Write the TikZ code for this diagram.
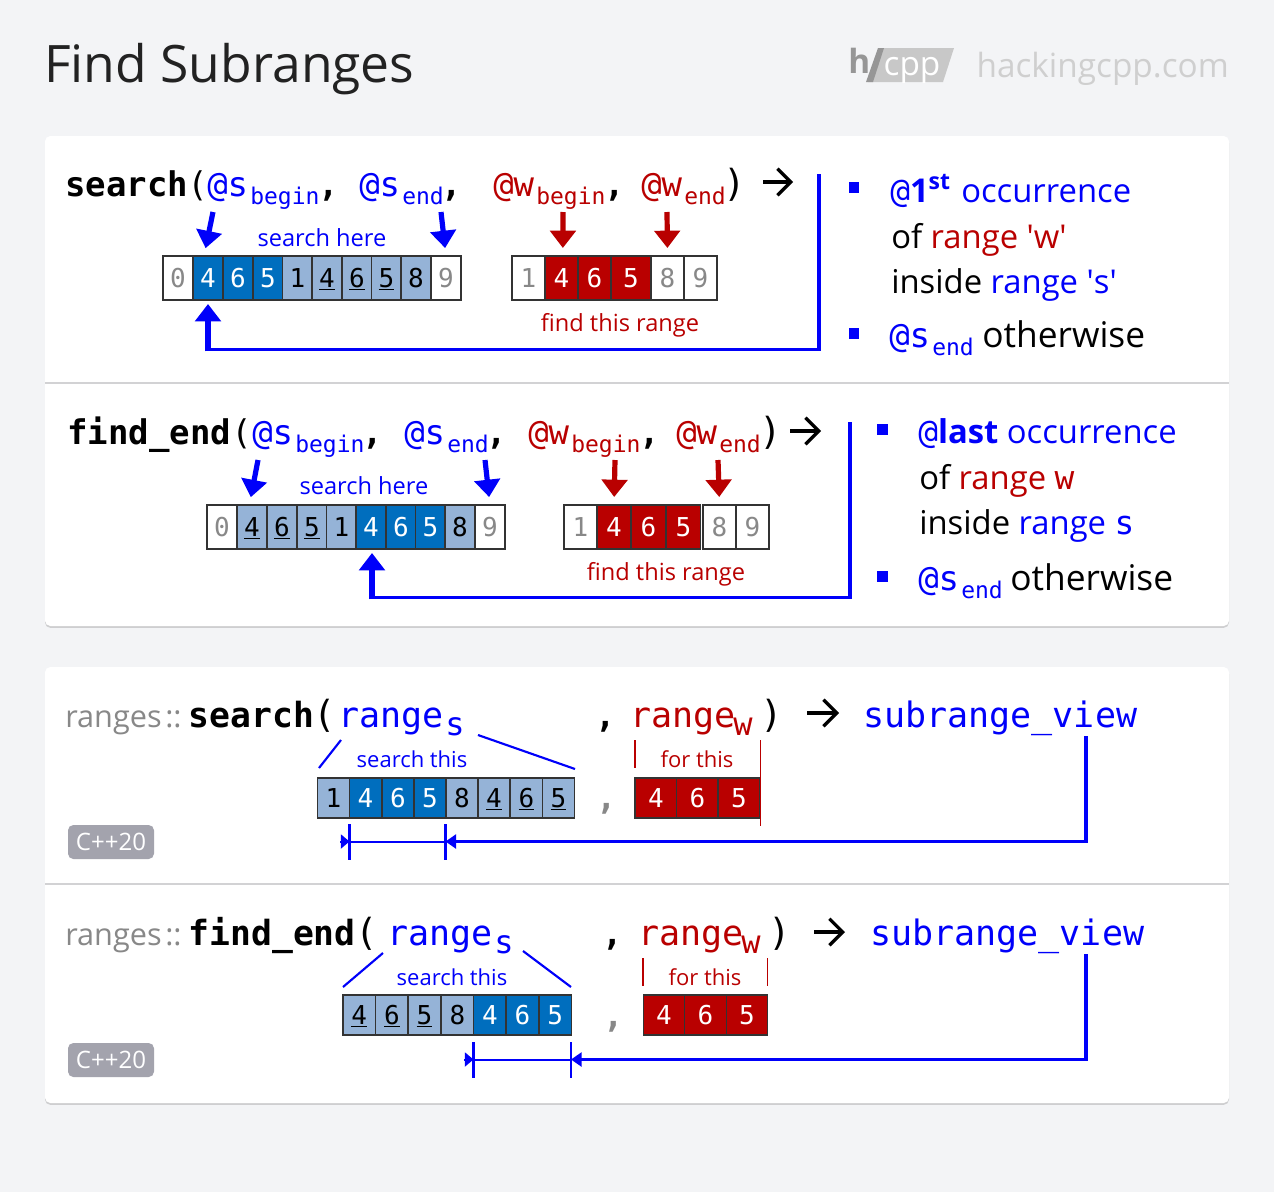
\documentclass[tikz,border=0pt]{standalone}
\usepackage{fontspec}
\setmainfont{Open Sans}
\setmonofont{DejaVu Sans Mono}
\usetikzlibrary{arrows.meta,shadows}
\definecolor{blueink}{RGB}{0,0,250}
\definecolor{redink}{RGB}{185,0,0}
\definecolor{darkcell}{RGB}{0,110,190}
\definecolor{lightcell}{RGB}{149,179,215}
\definecolor{pagegrey}{RGB}{243,244,246}
\definecolor{ruleline}{RGB}{210,210,212}
\definecolor{badgegrey}{RGB}{163,163,173}
\definecolor{faded}{RGB}{136,136,136}

\begin{document}
\begin{tikzpicture}[x=0.75pt,y=0.75pt,yscale=-1,xscale=1,
  panel/.style={fill=white,rounded corners=4pt,drop shadow={shadow xshift=0pt,shadow yshift=-1.4pt,opacity=.32}},
  divider/.style={draw=ruleline,line width=1.1pt},
  codetxt/.style={anchor=base west,inner sep=0pt,font=\ttfamily\fontsize{25.5pt}{30pt}\selectfont},
  codebold/.style={codetxt,font=\ttfamily\bfseries\fontsize{25.5pt}{30pt}\selectfont},
  codewide/.style={codetxt,font=\ttfamily\fontsize{26.25pt}{30pt}\selectfont},
  fnbold/.style={codetxt,font=\ttfamily\bfseries\fontsize{26pt}{30pt}\selectfont},
  paren/.style={codetxt,font=\ttfamily\fontsize{28pt}{30pt}\selectfont},
  subtxt/.style={anchor=base west,inner sep=0pt,font=\ttfamily\fontsize{17.25pt}{20pt}\selectfont},
  subbig/.style={anchor=base west,inner sep=0pt,font=\ttfamily\fontsize{24pt}{26pt}\selectfont},
  hint/.style={anchor=base,inner sep=0pt,font=\fontsize{16.5pt}{20pt}\selectfont},
  hintbig/.style={anchor=base,inner sep=0pt,font=\fontsize{17.7pt}{20pt}\selectfont},
  note/.style={anchor=base west,inner sep=0pt,font=\fontsize{24.6pt}{30pt}\selectfont},
  notewide/.style={anchor=base west,inner sep=0pt,font=\fontsize{26.5pt}{30pt}\selectfont},
  nsname/.style={anchor=base west,inner sep=0pt,text=faded,font=\fontsize{23pt}{26pt}\selectfont},
  cellbase/.style={draw={rgb,255:red,51;green,51;blue,51},line width=1pt,inner sep=0pt,outer sep=0pt,minimum width=22.35pt,minimum height=33pt,text height=14.25pt,text depth=0pt,font=\ttfamily\fontsize{19.5pt}{22pt}\selectfont},
  cellw/.style={cellbase,fill=white,text=faded},
  celll/.style={cellbase,fill=lightcell,text=black},
  celld/.style={cellbase,fill=darkcell,text=white},
  cellr/.style={cellbase,fill=redink,text=white},
  ptrblue/.style={blueink,line width=3.9pt,-{Triangle[width=19pt,length=13pt]},shorten >=6pt},
  ptrred/.style={ptrblue,draw=redink,color=redink},
  retline/.style={blueink,line width=2.9pt},
  retarrow/.style={retline,-{Triangle[width=10.5pt,length=8pt]}},
  backarrow/.style={black,line width=2.4pt,-{Straight Barb[length=10pt,width=20pt]}},
  bracket/.style={blueink,line width=2.2pt},
  spanline/.style={draw=blueink,line width=1.5pt},
  spantip/.style={draw=blueink,fill=blueink,line width=1.5pt,-{Triangle[width=10.5pt,length=6.5pt]}},
  slant/.style={blueink,line width=1.6pt},
  tick/.style={redink,line width=1.4pt},
  bullet/.style={fill=blueink},
  badge/.style={fill=badgegrey,rounded corners=4pt,text=white,inner sep=0pt,minimum width=64.5pt,minimum height=25.5pt,font=\fontsize{18pt}{22pt}\selectfont}]
\useasboundingbox (0,0) rectangle (1274,1192);
\fill[pagegrey] (0,0) rectangle (1274,1192);
%Header
\node[anchor=base west,inner sep=0pt,text={rgb,255:red,34;green,34;blue,34},font=\fontsize{38.7pt}{44pt}\selectfont] (title) at (44,82) {Find Subranges};
\fill[fill={rgb,255:red,200;green,200;blue,200}] (882,48) -- (954,48) -- (943,82) -- (868,82) -- cycle;
\fill[fill={rgb,255:red,150;green,150;blue,150}] (878,48) -- (884,48) -- (873,82) -- (866,82) -- cycle;
\node[anchor=base west,inner sep=0pt,text={rgb,255:red,150;green,150;blue,150},font=\bfseries\fontsize{25pt}{30pt}\selectfont] (logoh) at (848,73) {h};
\node[anchor=base,inner sep=0pt,text=white,font=\fontsize{25pt}{30pt}\selectfont] (logocpp) at (912,75) {cpp};
\node[anchor=base east,inner sep=0pt,text={rgb,255:red,207;green,207;blue,207},font=\fontsize{25pt}{30pt}\selectfont] (site) at (1229,77) {hackingcpp.com};
%Panels
\path[panel] (45,136) rectangle (1229,626);
\path[panel] (45,667) rectangle (1229,1103);
\draw[divider] (45,383) -- (1229,383);
\draw[divider] (45,884) -- (1229,884);

%Row: search
\node[codebold] (fnA) at (65,196) {search};
\node[codetxt] (opA) at (187,196) {(};
\node[codetxt,text=blueink] (sbA) at (207,196) {@s};
\node[subtxt,text=blueink] (sbAsub) at (250,204) {begin};
\node[codebold] (cmA1) at (318,196) {,};
\node[codetxt,text=blueink] (seA) at (359,196) {@s};
\node[subtxt,text=blueink] (seAsub) at (402,204) {end};
\node[codebold] (cmA2) at (441,196) {,};
\node[codetxt,text=redink] (wbA) at (493,196) {@w};
\node[subtxt,text=redink] (wbAsub) at (536,204) {begin};
\node[codebold] (cmA3) at (604,196) {,};
\node[codetxt,text=redink] (weA) at (641,196) {@w};
\node[subtxt,text=redink] (weAsub) at (684,204) {end};
\node[paren] (clA) at (723,196) {)};
\node[hintbig,text=blueink] (hereA) at (322,246) {search here};
\node[hintbig,text=redink] (findA) at (620,331) {find this range};
%Cells: search
\node[cellw] (sA0) at (178,278) {0};
\node[celld] (sA1) at (208,278) {4};
\node[celld] (sA2) at (238,278) {6};
\node[celld] (sA3) at (268,278) {5};
\node[celll] (sA4) at (297.5,278) {1};
\node[celll] (sA5) at (327,278) {\underline{4}};
\node[celll] (sA6) at (357,278) {\underline{6}};
\node[celll] (sA7) at (386.5,278) {\underline{5}};
\node[celll] (sA8) at (416,278) {8};
\node[cellw] (sA9) at (446,278) {9};
\node[cellw,minimum width=24.75pt] (wA0) at (528.5,278) {1};
\node[cellr,minimum width=24.75pt] (wA1) at (561.5,278) {4};
\node[cellr,minimum width=24.75pt] (wA2) at (594.5,278) {6};
\node[cellr,minimum width=30pt] (wA3) at (631,278) {5};
\node[cellw,minimum width=24.75pt] (wA4) at (667.5,278) {8};
\node[cellw,minimum width=24.75pt] (wA5) at (700.5,278) {9};
%Arrows: search
\coordinate (ptA1) at (213,212);
\coordinate (ptA2) at (441,212);
\coordinate (ptA3) at (563,212);
\coordinate (ptA4) at (667,212);
\draw[ptrblue] (ptA1) -- ([xshift=-3pt]sA1.north);
\draw[ptrblue] (ptA2) -- (sA9.north);
\draw[ptrred] (ptA3) -- ([xshift=1pt]wA1.north);
\draw[ptrred] (ptA4) -- (wA4.north);
\coordinate (retA) at (819,174);
\coordinate (cornerA) at (208,349.5);
\coordinate (baseA) at (208,351.4);
\draw[retline] (retA) |- (cornerA);
\draw[ptrblue,shorten >=3pt] (baseA) -- (sA1.south);
\coordinate (goA1) at (763,182);
\coordinate (goA2) at (793,182);
\draw[backarrow] (goA1) -- (goA2);
%Notes: search
\fill[bullet] (849,182) rectangle (859,193);
\fill[bullet] (849,328) rectangle (859,339);
\node[note,text=blueink] (noA1) at (890,202) {{\ttfamily @}\textbf{1\textsuperscript{st}}\hspace{1.5pt} occurrence};
\node[note] (noA2) at (891,248) {of \textcolor{redink}{range \textquotesingle w\textquotesingle}};
\node[note] (noA3) at (891,293) {inside \textcolor{blueink}{range \textquotesingle s\textquotesingle}};
\node[codetxt,text=blueink] (noA4) at (889,347) {@s};
\node[subtxt,text=blueink] (noA4sub) at (932,355) {end};
\node[notewide] (noA5) at (982,347) {otherwise};

%Row: find_end
\node[codebold] (fnB) at (67,444) {find\_end};
\node[codetxt] (opB) at (231,444) {(};
\node[codetxt,text=blueink] (sbB) at (252,444) {@s};
\node[subtxt,text=blueink] (sbBsub) at (295,452) {begin};
\node[codebold] (cmB1) at (362,444) {,};
\node[codetxt,text=blueink] (seB) at (404,444) {@s};
\node[subtxt,text=blueink] (seBsub) at (447,452) {end};
\node[codebold] (cmB2) at (486,444) {,};
\node[codetxt,text=redink] (wbB) at (528,444) {@w};
\node[subtxt,text=redink] (wbBsub) at (571,452) {begin};
\node[codebold] (cmB3) at (639,444) {,};
\node[codetxt,text=redink] (weB) at (676,444) {@w};
\node[subtxt,text=redink] (weBsub) at (719,452) {end};
\node[paren] (clB) at (759,444) {)};
\node[hintbig,text=blueink] (hereB) at (364,494) {search here};
\node[hintbig,text=redink] (findB) at (666,580) {find this range};
%Cells: find_end
\node[cellw] (sB0) at (222,527) {0};
\node[celll] (sB1) at (252,527) {\underline{4}};
\node[celll] (sB2) at (282,527) {\underline{6}};
\node[celll] (sB3) at (312,527) {\underline{5}};
\node[celll] (sB4) at (341.5,527) {1};
\node[celld] (sB5) at (371,527) {4};
\node[celld] (sB6) at (401,527) {6};
\node[celld] (sB7) at (430.5,527) {5};
\node[celll] (sB8) at (460,527) {8};
\node[cellw] (sB9) at (490,527) {9};
\node[cellw,minimum width=24.75pt] (wB0) at (580.5,527) {1};
\node[cellr,minimum width=24.75pt] (wB1) at (614,527) {4};
\node[cellr,minimum width=25.5pt] (wB2) at (648.5,527) {6};
\node[cellr,minimum width=25.5pt] (wB3) at (683.5,527) {5};
\node[cellw,minimum width=24.75pt] (wB4) at (719.5,527) {8};
\node[cellw,minimum width=24.75pt] (wB5) at (752.5,527) {9};
%Arrows: find_end
\coordinate (ptB1) at (258,460);
\coordinate (ptB2) at (485,460);
\coordinate (ptB3) at (615,460);
\coordinate (ptB4) at (718,460);
\draw[ptrblue] (ptB1) -- ([xshift=-2pt]sB1.north);
\draw[ptrblue] (ptB2) -- (sB9.north);
\draw[ptrred] (ptB3) -- (wB1.north);
\draw[ptrred] (ptB4) -- (wB4.north);
\coordinate (retB) at (850,422);
\coordinate (cornerB) at (372,597.5);
\coordinate (baseB) at (372,599.4);
\draw[retline] (retB) |- (cornerB);
\draw[ptrblue,shorten >=3pt] (baseB) -- ([xshift=.75pt]sB5.south);
\coordinate (goB1) at (790,431);
\coordinate (goB2) at (821,431);
\draw[backarrow] (goB1) -- (goB2);
%Notes: find_end
\fill[bullet] (877,424) rectangle (888,435);
\fill[bullet] (877,571) rectangle (888,582);
\node[note,text=blueink] (noB1) at (918,443) {{\ttfamily @}\textbf{last} occurrence};
\node[note] (noB2) at (919,489) {of \textcolor{redink}{range {\ttfamily w}}};
\node[note] (noB3) at (919,534) {inside \textcolor{blueink}{range {\ttfamily s}}};
\node[codetxt,text=blueink] (noB4) at (918,590) {@s};
\node[subtxt,text=blueink] (noB4sub) at (961,598) {end};
\node[notewide] (noB5) at (1010,590) {otherwise};

%Row: ranges::search
\node[nsname] (nsC) at (65,727) {ranges};
\node[nsname] (nsCc) at (165,727) {::};
\node[fnbold] (fnC) at (188.5,727) {search};
\node[paren] (opC) at (313,727) {(};
\node[codewide,text=blueink] (rsC) at (338,727) {range};
\node[subbig,text=blueink] (rsCsub) at (445,735) {s};
\node[codebold] (cmC1) at (595,727) {,};
\node[codewide,text=redink] (rwC) at (630,727) {range};
\node[subbig,text=redink] (rwCsub) at (733,735) {w};
\node[paren] (clC) at (760,727) {)};
\node[codewide,text=blueink] (svC) at (863,727) {subrange\_view};
\node[hint,text=blueink] (thisC) at (412,767) {search this};
\node[hint,text=redink] (forC) at (697,767) {for this};
\node[codebold,text=faded] (cmC2) at (596,809) {,};
\node[badge] (verC) at (111,842) {C++20};
%Cells: ranges::search
\node[celll,minimum width=24pt,minimum height=30pt] (sC0) at (333.5,798) {1};
\node[celld,minimum width=24pt,minimum height=30pt] (sC1) at (365.5,798) {4};
\node[celld,minimum width=24pt,minimum height=30pt] (sC2) at (398,798) {6};
\node[celld,minimum width=24pt,minimum height=30pt] (sC3) at (430,798) {5};
\node[celll,minimum width=24pt,minimum height=30pt] (sC4) at (462,798) {8};
\node[celll,minimum width=24pt,minimum height=30pt] (sC5) at (494,798) {\underline{4}};
\node[celll,minimum width=24pt,minimum height=30pt] (sC6) at (526.5,798) {\underline{6}};
\node[celll,minimum width=24pt,minimum height=30pt] (sC7) at (558.5,798) {\underline{5}};
\node[cellr,minimum width=31.5pt,minimum height=30pt] (wC0) at (656,798) {4};
\node[cellr,minimum width=31.5pt,minimum height=30pt] (wC1) at (697.5,798) {6};
\node[cellr,minimum width=31.5pt,minimum height=30pt] (wC2) at (739,798) {5};
%Marks: ranges::search
\coordinate (slC1) at (341,740);
\coordinate (slC2) at (319,768);
\coordinate (slC3) at (478,735);
\coordinate (slC4) at (575,769);
\draw[slant] (slC1) -- (slC2);
\draw[slant] (slC3) -- (slC4);
\coordinate (tkC1) at (635,740);
\coordinate (tkC2) at (635,768);
\coordinate (tkC3) at (760.5,740);
\coordinate (tkC4) at (760.5,826);
\draw[tick] (tkC1) -- (tkC2);
\draw[tick] (tkC3) -- (tkC4);
\coordinate (brC1) at (349.5,841.5);
\coordinate (brC2) at (445.5,841.5);
\coordinate (brC0) at (340,841.5);
\draw[bracket] ([yshift=13.5pt]brC1) -- ([yshift=-13.5pt]brC1);
\draw[bracket] ([yshift=13.5pt]brC2) -- ([yshift=-13.5pt]brC2);
\draw[spanline] (brC1) -- (brC2);
\draw[spantip] (brC0) -- (brC1);
\coordinate (retC) at (1086,736);
\draw[retarrow] (retC) |- (brC2);
\coordinate (goC1) at (807,713);
\coordinate (goC2) at (839,713);
\draw[backarrow] (goC1) -- (goC2);

%Row: ranges::find_end
\node[nsname] (nsD) at (65,945) {ranges};
\node[nsname] (nsDc) at (165,945) {::};
\node[fnbold] (fnD) at (188.5,945) {find\_end};
\node[paren] (opD) at (355,945) {(};
\node[codewide,text=blueink] (rsD) at (387,945) {range};
\node[subbig,text=blueink] (rsDsub) at (494,953) {s};
\node[codebold] (cmD1) at (602,945) {,};
\node[codewide,text=redink] (rwD) at (638,945) {range};
\node[subbig,text=redink] (rwDsub) at (741,953) {w};
\node[paren] (clD) at (768,945) {)};
\node[codewide,text=blueink] (svD) at (870,945) {subrange\_view};
\node[hint,text=blueink] (thisD) at (452,985) {search this};
\node[hint,text=redink] (forD) at (705,985) {for this};
\node[codebold,text=faded] (cmD2) at (603,1027) {,};
\node[badge] (verD) at (111,1060) {C++20};
%Cells: ranges::find_end
\node[celll,minimum width=24.6pt,minimum height=30pt] (sD0) at (359.3,1015) {\underline{4}};
\node[celll,minimum width=24.6pt,minimum height=30pt] (sD1) at (392,1015) {\underline{6}};
\node[celll,minimum width=24.6pt,minimum height=30pt] (sD2) at (424.5,1015) {\underline{5}};
\node[celll,minimum width=24.6pt,minimum height=30pt] (sD3) at (457.5,1015) {8};
\node[celld,minimum width=24.6pt,minimum height=30pt] (sD4) at (490,1015) {4};
\node[celld,minimum width=24.6pt,minimum height=30pt] (sD5) at (522.5,1015) {6};
\node[celld,minimum width=24.6pt,minimum height=30pt] (sD6) at (555.3,1015) {5};
\node[cellr,minimum width=31.1pt,minimum height=30pt] (wD0) at (664,1015) {4};
\node[cellr,minimum width=31.1pt,minimum height=30pt] (wD1) at (705.5,1015) {6};
\node[cellr,minimum width=31.1pt,minimum height=30pt] (wD2) at (747,1015) {5};
%Marks: ranges::find_end
\coordinate (slD1) at (383,953);
\coordinate (slD2) at (343,987);
\coordinate (slD3) at (523,951);
\coordinate (slD4) at (571,987);
\draw[slant] (slD1) -- (slD2);
\draw[slant] (slD3) -- (slD4);
\coordinate (tkD1) at (643,958);
\coordinate (tkD2) at (643,986);
\coordinate (tkD3) at (767.5,958);
\coordinate (tkD4) at (767.5,986);
\draw[tick] (tkD1) -- (tkD2);
\draw[tick] (tkD3) -- (tkD4);
\coordinate (brD1) at (473.5,1059.5);
\coordinate (brD2) at (571,1059.5);
\coordinate (brD0) at (464,1059.5);
\draw[bracket] ([yshift=13.5pt]brD1) -- ([yshift=-13.5pt]brD1);
\draw[bracket] ([yshift=13.5pt]brD2) -- ([yshift=-13.5pt]brD2);
\draw[spanline] (brD1) -- (brD2);
\draw[spantip] (brD0) -- (brD1);
\coordinate (retD) at (1086,954);
\draw[retarrow] (retD) |- (brD2);
\coordinate (goD1) at (814,932);
\coordinate (goD2) at (845,932);
\draw[backarrow] (goD1) -- (goD2);
\end{tikzpicture}
\end{document}
